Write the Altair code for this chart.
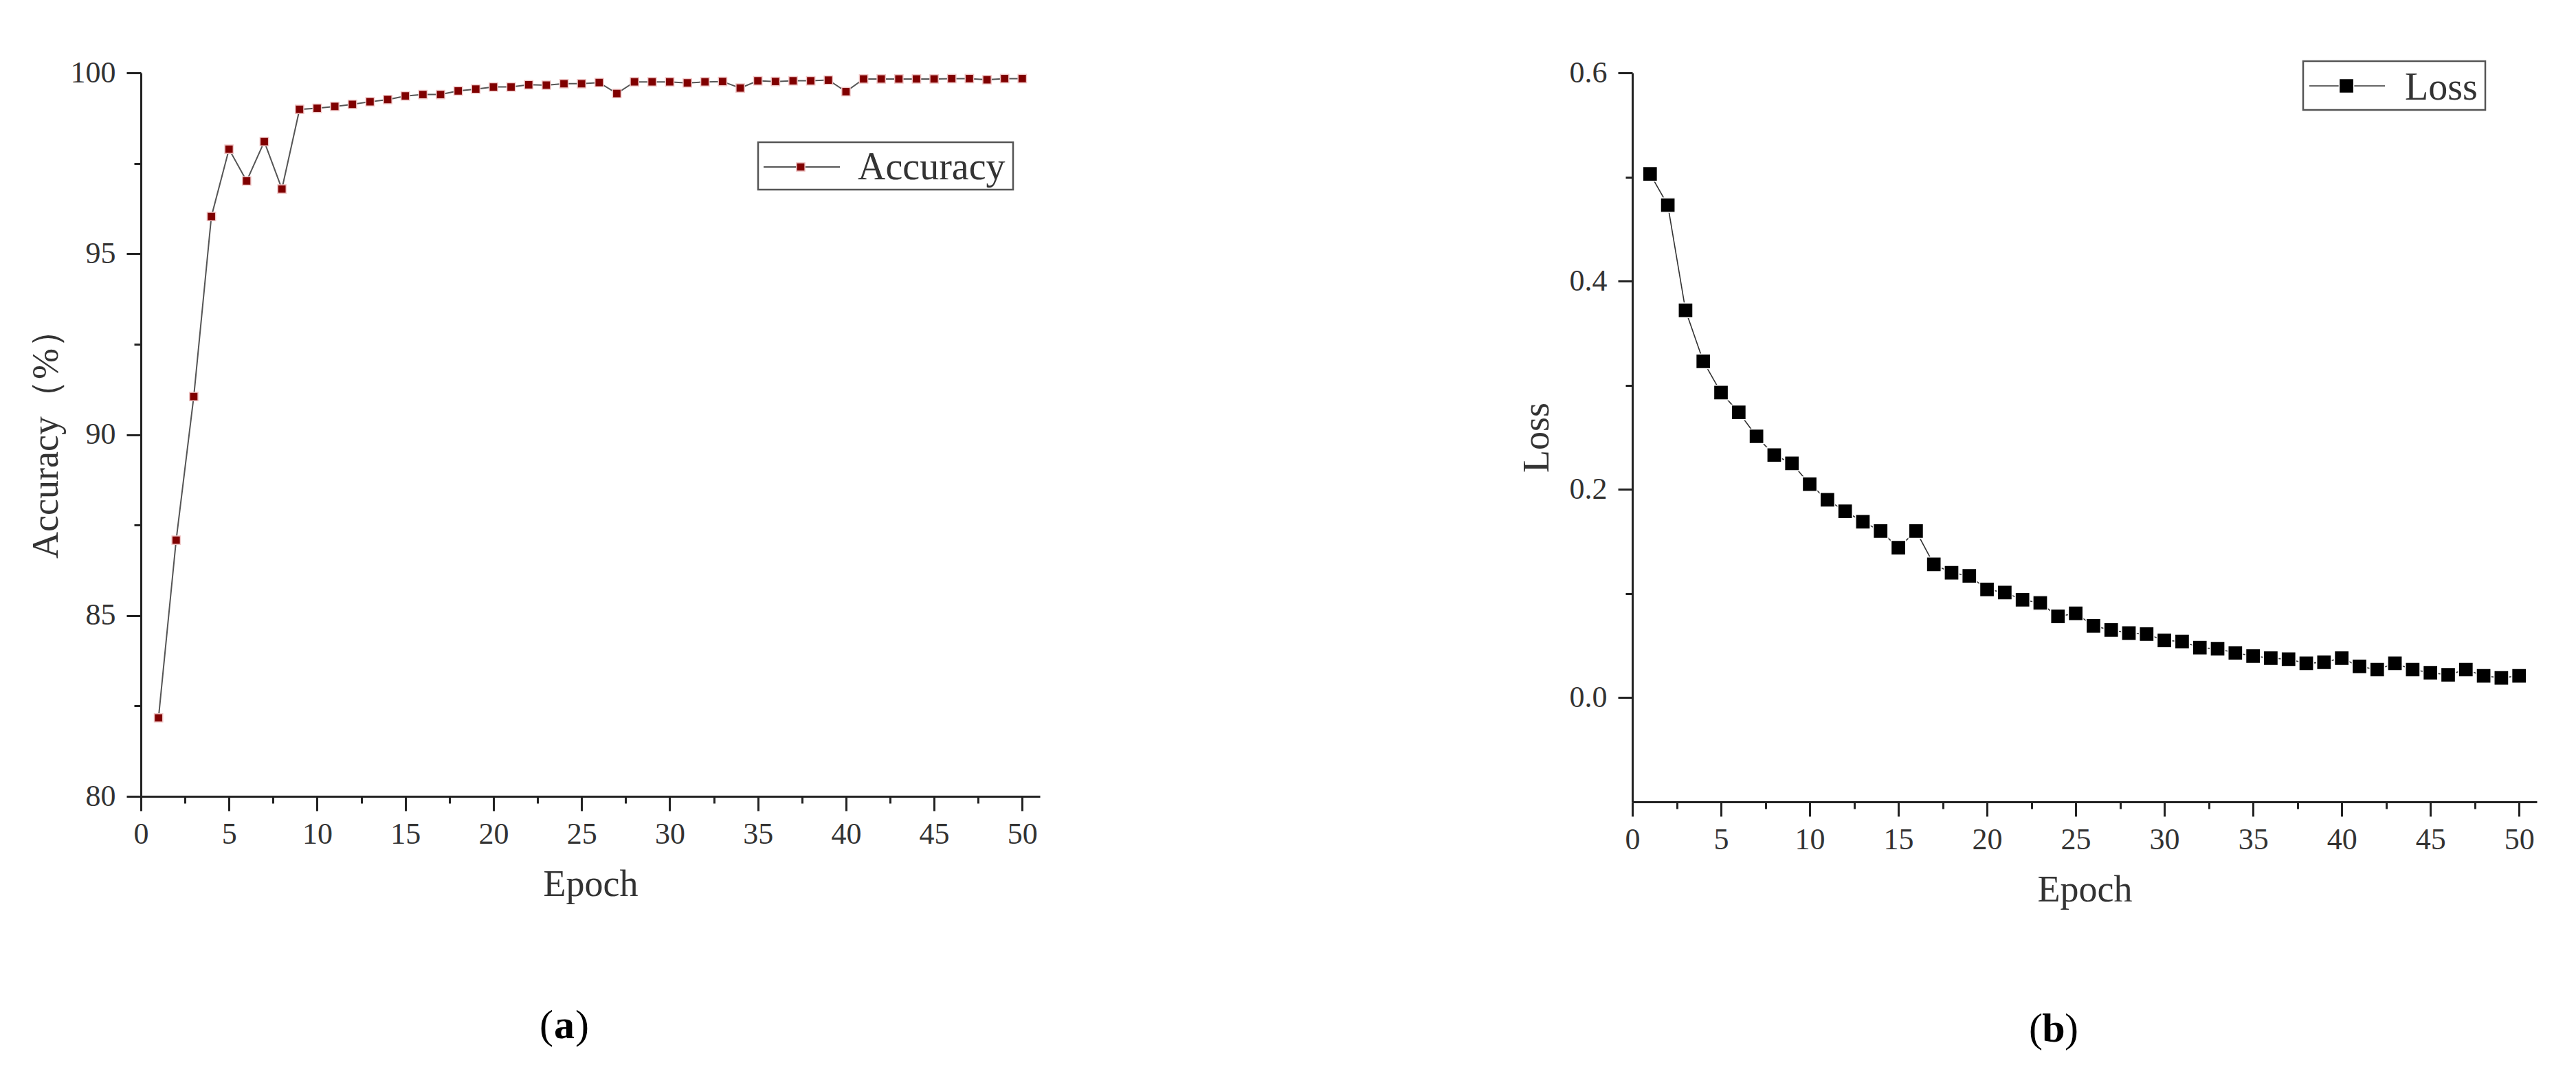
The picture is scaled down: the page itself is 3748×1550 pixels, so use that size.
import altair as alt
import pandas as pd

FONT = "Liberation Serif"

epochs = list(range(1, 51))
accuracy = [82.17, 87.08, 91.05, 96.03, 97.89, 97.01, 98.10, 96.79, 98.99, 99.02,
            99.07, 99.13, 99.20, 99.26, 99.36, 99.40, 99.40, 99.50, 99.55, 99.61,
            99.61, 99.67, 99.66, 99.70, 99.70, 99.73, 99.43, 99.75, 99.75, 99.75,
            99.72, 99.75, 99.76, 99.58, 99.78, 99.76, 99.78, 99.78, 99.80, 99.48,
            99.83, 99.83, 99.83, 99.83, 99.83, 99.84, 99.84, 99.81, 99.84, 99.84]
loss = [0.503, 0.473, 0.372, 0.323, 0.293, 0.274, 0.251, 0.233, 0.225, 0.205,
        0.190, 0.179, 0.169, 0.160, 0.144, 0.160, 0.128, 0.120, 0.117, 0.104,
        0.101, 0.094, 0.091, 0.078, 0.081, 0.069, 0.065, 0.062, 0.061, 0.055,
        0.054, 0.048, 0.047, 0.043, 0.040, 0.038, 0.037, 0.033, 0.034, 0.038,
        0.030, 0.027, 0.033, 0.027, 0.024, 0.022, 0.027, 0.021, 0.019, 0.021]

x_major = [0, 5, 10, 15, 20, 25, 30, 35, 40, 45, 50]
x_minor = [2.5, 7.5, 12.5, 17.5, 22.5, 27.5, 32.5, 37.5, 42.5, 47.5]
acc_major = [80, 85, 90, 95, 100]
acc_minor = [82.5, 87.5, 92.5, 97.5]
loss_major = [0.0, 0.2, 0.4, 0.6]
loss_minor = [0.1, 0.3, 0.5]

series_names = ["Accuracy", "Loss"]
panel_names = ["a", "b"]
axis_titles = ["Accuracy（%）", "Loss"]

df = pd.DataFrame({"Epoch": epochs, "Accuracy": accuracy, "Loss": loss})
one = pd.DataFrame({"k": [0]})

AX = "#222222"
TXT = "#333333"


def main_x():
    return alt.Axis(values=x_major, title="Epoch", orient="bottom", format="d",
                    tickSize=21, tickWidth=3, domainWidth=3, domainColor=AX, tickColor=AX,
                    labelFont=FONT, labelFontSize=44, labelColor=TXT, labelPadding=12,
                    labelFlush=False, labelOverlap=False,
                    titleFont=FONT, titleFontSize=54, titleFontWeight="normal",
                    titleColor=TXT, titlePadding=24, grid=False)


def minor_x():
    return alt.Axis(values=x_minor, orient="bottom", labels=False, domain=False,
                    tickSize=10, tickWidth=3, tickColor=AX, title="", grid=False)


def panel(ycol, ydom, ymaj, ymin, yfmt, ytitle, ytitlepad, line_color, line_w,
          pt_fill, pt_stroke, pt_size, width, height, leg, label_xy, name):
    xs = alt.Scale(domain=[0, 51], nice=False, zero=False)
    ys = alt.Scale(domain=ydom, nice=False, zero=False)
    base = alt.Chart(df)
    line = base.mark_line(color=line_color, strokeWidth=line_w).encode(
        x=alt.X("Epoch:Q", scale=xs, axis=main_x()),
        y=alt.Y(f"{ycol}:Q", scale=ys, axis=alt.Axis(
            values=ymaj, title=ytitle, orient="left", format=yfmt,
            tickSize=21, tickWidth=3, domainWidth=3, domainColor=AX, tickColor=AX,
            labelFont=FONT, labelFontSize=44, labelColor=TXT, labelPadding=16,
            labelFlush=False, labelOverlap=False,
            titleFont=FONT, titleFontSize=54, titleFontWeight="normal",
            titleColor=TXT, titlePadding=ytitlepad, grid=False)),
    )
    minor = base.mark_line(opacity=0).encode(
        x=alt.X("Epoch:Q", scale=xs, axis=minor_x()),
        y=alt.Y(f"{ycol}:Q", scale=ys, axis=alt.Axis(
            values=ymin, orient="left", labels=False, domain=False,
            tickSize=10, tickWidth=3, tickColor=AX, title="", grid=False)),
    )
    pts = base.mark_point(shape="square", filled=True, fill=pt_fill, stroke=pt_stroke,
                          strokeWidth=1.5, size=pt_size, opacity=1).encode(
        x=alt.X("Epoch:Q", scale=xs, axis=None),
        y=alt.Y(f"{ycol}:Q", scale=ys, axis=None),
    )
    lb = pd.DataFrame({"t": [name]})
    box = alt.Chart(one).mark_rect(fill="white", stroke="#555555", strokeWidth=2.5).encode(
        x=alt.value(leg["x1"]), x2=alt.value(leg["x2"]),
        y=alt.value(leg["y1"]), y2=alt.value(leg["y2"]))
    lline = alt.Chart(one).mark_rule(color=line_color, strokeWidth=line_w).encode(
        x=alt.value(leg["lx1"]), x2=alt.value(leg["lx2"]), y=alt.value(leg["ly"]))
    lpt = alt.Chart(one).mark_point(shape="square", filled=True, fill=pt_fill,
                                    stroke=pt_stroke, strokeWidth=1.5,
                                    size=leg["ps"], opacity=1).encode(
        x=alt.value(leg["px"]), y=alt.value(leg["ly"]))
    ltxt = alt.Chart(lb).mark_text(font=FONT, fontSize=56, color=TXT, align="left",
                                   baseline="alphabetic").encode(
        x=alt.value(leg["tx"]), y=alt.value(leg["ty"]), text="t:N")
    pl = pd.DataFrame({"l": [label_xy["letter"]]})
    cx, cy = label_xy["x"], label_xy["y"]
    p1 = alt.Chart(one).mark_text(font=FONT, fontSize=60, color="black", align="right",
                                  baseline="alphabetic", text="(").encode(
        x=alt.value(cx - 16), y=alt.value(cy))
    p2 = alt.Chart(pl).mark_text(font=FONT, fontSize=60, color="black", align="center",
                                 baseline="alphabetic", fontWeight="bold").encode(
        x=alt.value(cx), y=alt.value(cy), text="l:N")
    p3 = alt.Chart(one).mark_text(font=FONT, fontSize=60, color="black", align="left",
                                  baseline="alphabetic", text=")").encode(
        x=alt.value(cx + 16), y=alt.value(cy))
    return alt.layer(line, minor, pts, box, lline, lpt, ltxt, p1, p2, p3).resolve_axis(
        x="independent", y="independent").properties(width=width, height=height)


left = panel("Accuracy", [80, 100], acc_major, acc_minor, "d", axis_titles[0], 8,
             "#555555", 2, "#800000", "#efc6c6", 150, 1308, 1053,
             dict(x1=898, x2=1269, y1=101, y2=170, lx1=906, lx2=1017, ly=137, px=960,
                  ps=150, tx=1043, ty=155),
             dict(x=616, y=1405, letter=panel_names[0]), series_names[0])

right = panel("Loss", [-0.1, 0.6], loss_major, loss_minor, ".1f", axis_titles[1], 20,
              "#333333", 1.6, "#000000", "#ffffff", 450, 1316, 1061,
              dict(x1=976, x2=1241, y1=-17, y2=54, lx1=985, lx2=1095, ly=19, px=1039,
                   ps=450, tx=1124, ty=39),
              dict(x=613, y=1410, letter=panel_names[1]), series_names[1])

chart = alt.hconcat(left, right, spacing=694).properties(
    padding={"left": 31, "top": 75, "right": 5, "bottom": 5},
    background="white",
).configure_view(stroke="transparent")

chart.save("out.html", embed_options={"renderer": "svg", "actions": False})
